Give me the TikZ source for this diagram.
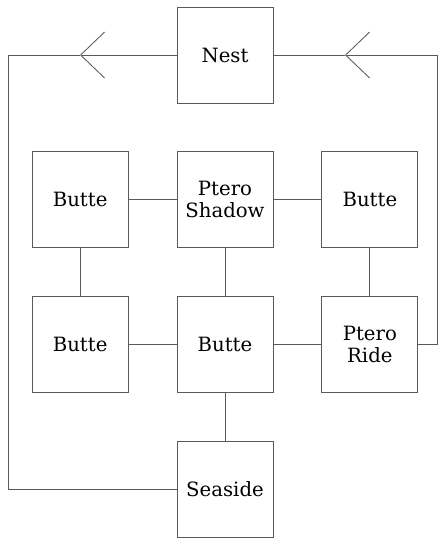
\documentclass[tikz,border=0pt]{standalone}
\usepackage{fontspec}
\setmainfont{DejaVu Serif}
\usepackage{tikz}
\usetikzlibrary{arrows.meta, positioning}

\begin{document}
\begin{tikzpicture}[
  room/.style={draw=black!65, line width=0.6pt, minimum width=2.4cm, minimum height=2.4cm, align=center, font=\fontsize{14}{15.5}\selectfont, inner sep=0pt},
  link/.style={draw=black!65, line width=0.6pt},
  >={Straight Barb[length=0.6cm, width=1.15cm]}, node distance=1.2cm
]
\useasboundingbox (-5.625,1.375) rectangle (5.325,-12.1);
\node[room] (nest)   {Nest};
\node[room, below=of nest]     (shadow)   {Ptero\\Shadow};
\node[room, left=of shadow]    (buttenw)  {Butte};
\node[room, right=of shadow]   (buttene)  {Butte};
\node[room, below=of shadow]   (buttemid) {Butte};
\node[room, left=of buttemid]  (buttesw)  {Butte};
\node[room, right=of buttemid] (ride)     {Ptero\\Ride};
\node[room, below=of buttemid] (seaside)  {Seaside};

\coordinate (ltip)    at (-3.625,0);
\coordinate (lcorner) at (-5.425,0);
\coordinate (rtip)    at (3,0);
\coordinate (rcorner) at (5.3,0);

\draw[link] (buttenw)  -- (shadow);
\draw[link] (shadow)   -- (buttene);
\draw[link] (buttenw)  -- (buttesw);
\draw[link] (shadow)   -- (buttemid);
\draw[link] (buttene)  -- (ride);
\draw[link] (buttesw)  -- (buttemid);
\draw[link] (buttemid) -- (ride);
\draw[link] (buttemid) -- (seaside);

\draw[link, ->] (ride) -| (rcorner) -- (rtip);
\draw[link] (rtip) -- (nest);
\draw[link, ->] (nest) -- (ltip);
\draw[link] (ltip) -- (lcorner) |- (seaside);
\end{tikzpicture}
\end{document}
